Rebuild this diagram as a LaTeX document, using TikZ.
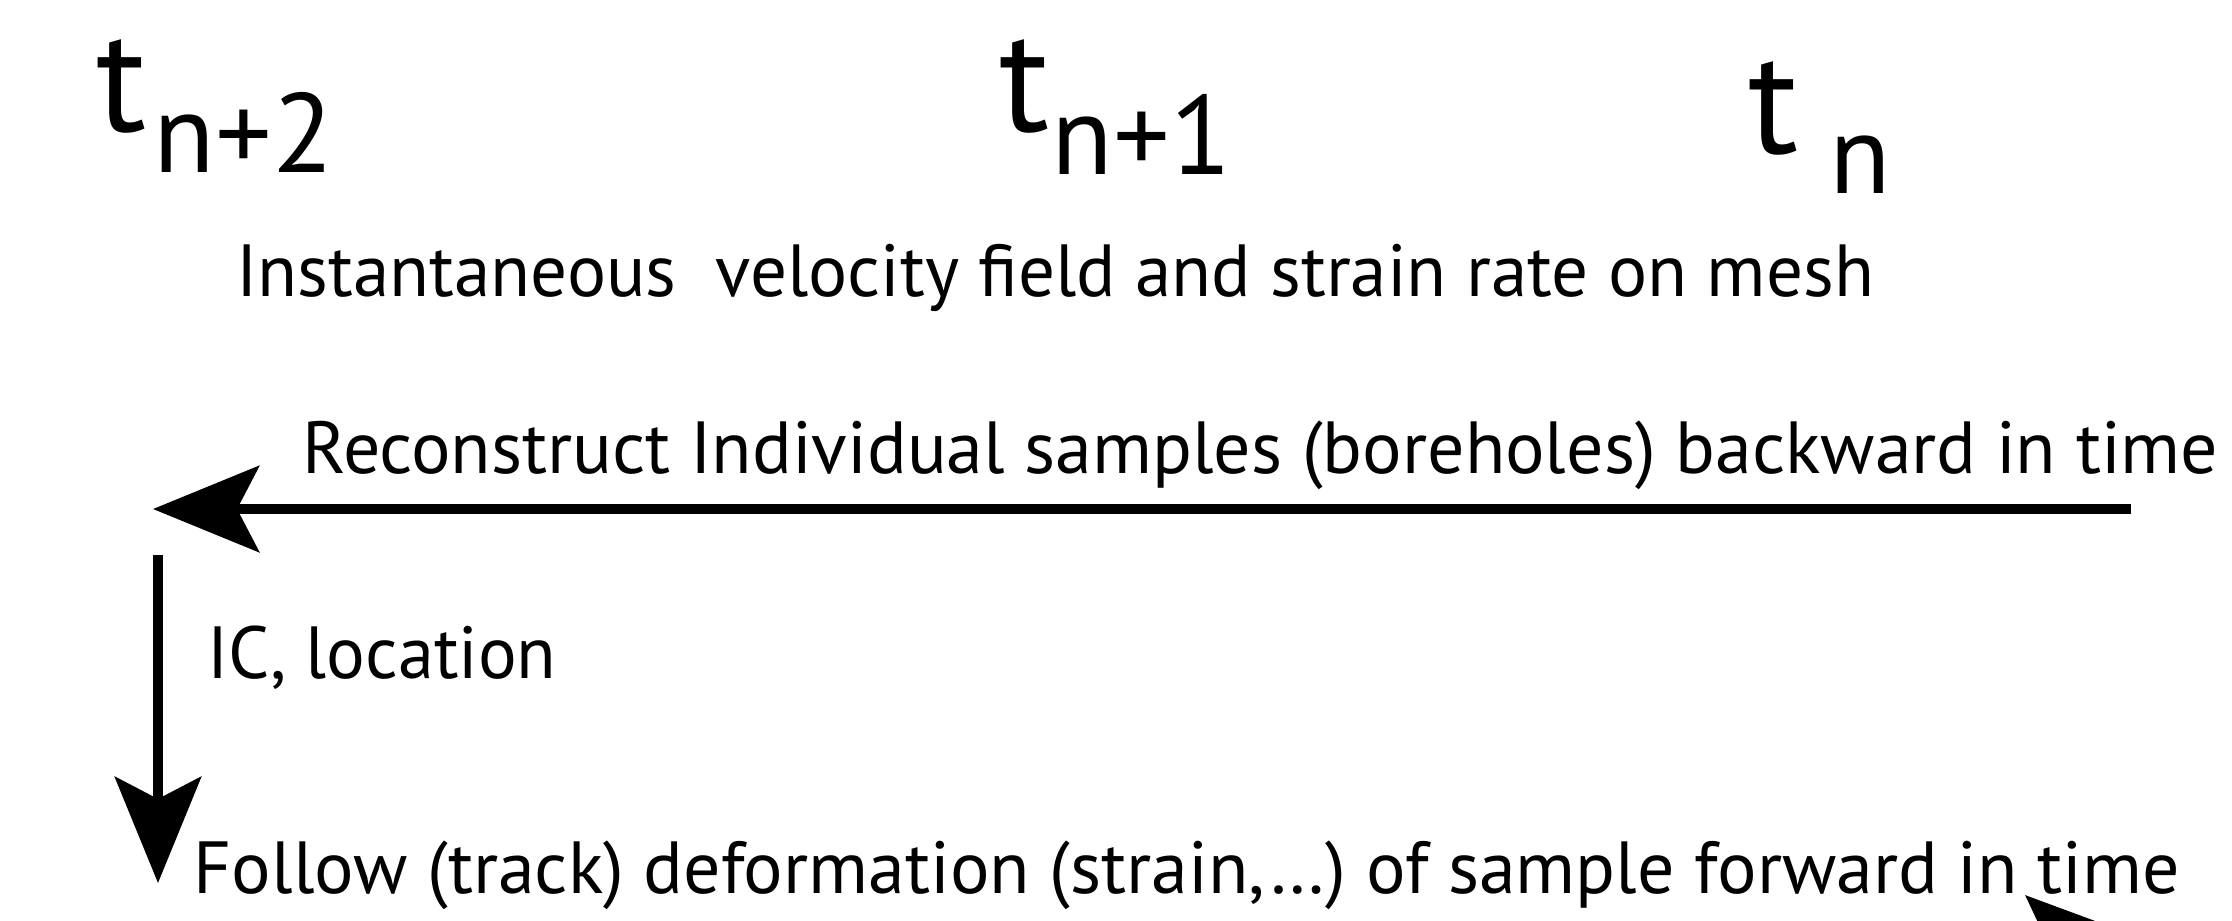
\documentclass[tikz,border=0pt]{standalone}
\usepackage{fontspec}
\setmainfont{PT Sans}
\usetikzlibrary{arrows.meta}
\tikzset{
  txt/.style={font=\fontsize{21}{25}\selectfont, anchor=base west, inner sep=0pt},
  tbig/.style={font=\fontsize{42}{46}\selectfont, anchor=base west, inner sep=0pt},
  tsub/.style={font=\fontsize{32}{36}\selectfont, anchor=base west, inner sep=0pt},
  flow/.style={line width=1mm, -{Stealth[length=10.6mm, width=8.6mm, inset=2.2mm]}}
}
\begin{document}
\begin{tikzpicture}[x=0.01cm,y=-0.01cm]
  \useasboundingbox (0,0) rectangle (2232,920);
  \clip (0,0) rectangle (2232,920);
  % time levels
  \node[tbig] (t2) at (96,131) {t};
  \node[tsub] (t2s) at (153,172) {n+2};
  \node[tbig] (t1) at (999,131) {t};
  \node[tsub] (t1s) at (1051,174) {n+1};
  \node[tbig] (t0) at (1748,153) {t};
  \node[tsub] (t0s) at (1829,193) {n};
  % texts
  \node[txt, xscale=0.99] (mesh) at (236,296) {Instantaneous\ \ velocity field and strain rate on mesh};
  \node[txt] (back) at (302,473) {Reconstruct Individual samples (boreholes) backward in time};
  \node[txt, xscale=0.98] (ic) at (207,678) {IC, location};
  \node[txt] (fwd) at (193,893) {Follow (track) deformation (strain,\dots) of sample forward in time};
  % arrows
  \coordinate (backStart) at (2131,509);
  \coordinate (backEnd) at (153,509);
  \coordinate (icTop) at (158,555);
  \coordinate (icEnd) at (158,883);
  \coordinate (fwdTail) at (2246,1098);
  \coordinate (fwdTip) at (2025,895);
  \draw[flow] (backStart) -- (backEnd);
  \draw[flow] (icTop) -- (icEnd);
  \draw[flow] (fwdTail) -- (fwdTip);
\end{tikzpicture}
\end{document}
